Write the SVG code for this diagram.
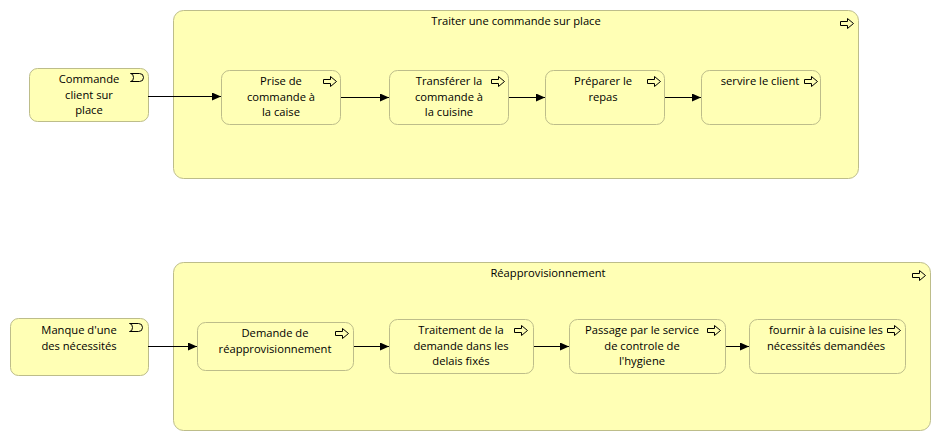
<svg xmlns="http://www.w3.org/2000/svg" xmlns:xlink="http://www.w3.org/1999/xlink" width="940" height="441" viewBox="0 0 940 441">
<style>
.box{fill:#FFFFB5;stroke:#BDBD8A;stroke-width:1}
.t{font-family:"Open Sans","Noto Sans","Liberation Sans",sans-serif;font-size:11.2px;fill:#000;text-anchor:middle}
.ic{fill:none;stroke:#000;stroke-width:1}
.c{stroke:#000;stroke-width:1;fill:none}
</style>
<defs>
<g id="proc"><path class="ic" d="M0.5,3.5 h7 v-3 l6,5 l-6,5 v-3 h-7 z"/></g>
<g id="evt"><path class="ic" d="M0.5,0.5 h9 a4,4 0 0 1 0,8 h-9 a3,4 0 0 0 0,-8 z"/></g>
<marker id="ah" markerWidth="9" markerHeight="8" refX="9" refY="4" orient="auto" markerUnits="userSpaceOnUse"><path d="M0,0 L9,4 L0,8 z" fill="#000"/></marker>
</defs>
<rect width="940" height="441" fill="#fff"/>

<g id="container1">
<rect class="box" x="173.5" y="10.5" width="685" height="168" rx="10"/>
<text class="t" x="516" y="25">Traiter une commande sur place</text>
<use xlink:href="#proc" x="840" y="18"/>
</g>
<g id="container2">
<rect class="box" x="173.5" y="262.5" width="757" height="168" rx="10"/>
<text class="t" x="548" y="277">Réapprovisionnement</text>
<use xlink:href="#proc" x="912" y="270"/>
</g>

<g id="n_commande">
<rect class="box" x="29.5" y="68.5" width="119" height="53" rx="8"/>
<use xlink:href="#evt" x="130" y="73"/>
<text class="t" x="89" y="83">Commande</text>
<text class="t" x="89" y="99">client sur</text>
<text class="t" x="89" y="114">place</text>
</g>
<g id="n_prise">
<rect class="box" x="221.5" y="70.5" width="119" height="54" rx="8"/>
<use xlink:href="#proc" x="323" y="76"/>
<text class="t" x="281" y="85">Prise de</text>
<text class="t" x="281" y="101">commande à</text>
<text class="t" x="281" y="116">la caise</text>
</g>
<g id="n_transferer">
<rect class="box" x="389.5" y="70.5" width="119" height="54" rx="8"/>
<use xlink:href="#proc" x="491" y="76"/>
<text class="t" x="449" y="85">Transférer la</text>
<text class="t" x="449" y="101">commande à</text>
<text class="t" x="449" y="116">la cuisine</text>
</g>
<g id="n_preparer">
<rect class="box" x="545.5" y="70.5" width="119" height="54" rx="8"/>
<use xlink:href="#proc" x="647" y="76"/>
<text class="t" x="603" y="85">Préparer le</text>
<text class="t" x="603" y="101">repas</text>
</g>
<g id="n_servire">
<rect class="box" x="701.5" y="70.5" width="119" height="54" rx="8"/>
<use xlink:href="#proc" x="804" y="76"/>
<text class="t" x="760" y="85">servire le client</text>
</g>

<g id="n_manque">
<rect class="box" x="10.5" y="318.5" width="138" height="57" rx="8"/>
<use xlink:href="#evt" x="129" y="323"/>
<text class="t" x="79" y="334">Manque d'une</text>
<text class="t" x="79" y="350">des nécessités</text>
</g>
<g id="n_demande">
<rect class="box" x="197.5" y="322.5" width="156" height="48" rx="8"/>
<use xlink:href="#proc" x="335" y="328"/>
<text class="t" x="275" y="337">Demande de</text>
<text class="t" x="275" y="353">réapprovisionnement</text>
</g>
<g id="n_traitement">
<rect class="box" x="389.5" y="319.5" width="144" height="54" rx="8"/>
<use xlink:href="#proc" x="514" y="325"/>
<text class="t" x="461" y="334">Traitement de la</text>
<text class="t" x="461" y="350">demande dans les</text>
<text class="t" x="461" y="365">delais fixés</text>
</g>
<g id="n_passage">
<rect class="box" x="569.5" y="319.5" width="156" height="54" rx="8"/>
<use xlink:href="#proc" x="707" y="325"/>
<text class="t" x="642" y="334">Passage par le service</text>
<text class="t" x="642" y="350">de controle de</text>
<text class="t" x="642" y="365">l'hygiene</text>
</g>
<g id="n_fournir">
<rect class="box" x="749.5" y="319.5" width="156" height="54" rx="8"/>
<use xlink:href="#proc" x="887" y="325"/>
<text class="t" x="826" y="334">fournir à la cuisine les</text>
<text class="t" x="826" y="350">nécessités demandées</text>
</g>

<g id="connectors">
<line class="c" x1="148" y1="96.5" x2="221" y2="96.5" marker-end="url(#ah)"/>
<line class="c" x1="341" y1="97.5" x2="389" y2="97.5" marker-end="url(#ah)"/>
<line class="c" x1="509" y1="97.5" x2="545" y2="97.5" marker-end="url(#ah)"/>
<line class="c" x1="665" y1="97.5" x2="701" y2="97.5" marker-end="url(#ah)"/>
<line class="c" x1="148" y1="346.5" x2="197" y2="346.5" marker-end="url(#ah)"/>
<line class="c" x1="354" y1="346.5" x2="389" y2="346.5" marker-end="url(#ah)"/>
<line class="c" x1="534" y1="346.5" x2="569" y2="346.5" marker-end="url(#ah)"/>
<line class="c" x1="726" y1="346.5" x2="749" y2="346.5" marker-end="url(#ah)"/>
</g>
</svg>
